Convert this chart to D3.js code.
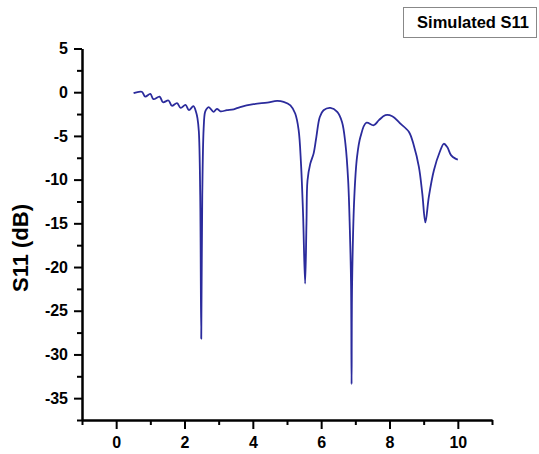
<!DOCTYPE html>
<html>
<head>
<meta charset="utf-8">
<script src="https://cdn.jsdelivr.net/npm/d3@7"></script>
<style>
  body { margin: 0; background: #fff; }
  text { font-family: "Liberation Sans", Arial, sans-serif; font-weight: bold; }
</style>
</head>
<body>
<svg id="chart" width="539" height="454"></svg>
<script>
// frequency (GHz) and S11 (dB)
const freq = [0.51, 0.75, 0.85, 1.0, 1.09, 1.27, 1.37, 1.53, 1.63, 1.78, 1.89, 2.03, 2.13, 2.26, 2.34,
  2.38, 2.42, 2.46, 2.49, 2.52, 2.56, 2.6, 2.65, 2.71, 2.85, 2.95, 3.05, 3.24, 3.44, 3.63, 4.02,
  4.42, 4.71, 4.9, 5.1, 5.24, 5.34, 5.41, 5.47, 5.53, 5.57, 5.6, 5.68, 5.78, 5.86, 5.96, 6.07,
  6.27, 6.47, 6.61, 6.71, 6.79, 6.84, 6.875, 6.89, 6.905, 6.97, 7.05, 7.15, 7.32, 7.54, 7.69,
  7.88, 8.08, 8.27, 8.32, 8.57, 8.71, 8.86, 8.96, 9.05, 9.15, 9.3, 9.47, 9.59, 9.69, 9.8, 9.93, 10.0];
const s11 = [-0.1, 0.05, -0.5, -0.2, -0.8, -0.5, -1.15, -0.95, -1.55, -1.25, -1.8, -1.45, -2.05, -1.6, -2.3,
  -3.0, -4.5, -11.8, -28.2, -11.8, -4.2, -2.3, -1.9, -1.7, -2.25, -1.9, -2.18, -2.06, -1.95, -1.7, -1.37,
  -1.18, -1.0, -1.1, -1.5, -2.44, -4.3, -8.2, -13.9, -21.9, -15, -10.1, -8.2, -7.0, -5.1, -2.83, -2.06,
  -1.8, -2.25, -3.4, -5.9, -10.1, -15.8, -22, -33.4, -22, -12, -7.4, -5.1, -3.5, -3.78, -3.2,
  -2.63, -2.75, -3.4, -3.6, -4.54, -6.07, -8.55, -11.6, -14.9, -12, -8.93, -6.84, -5.9, -6.27, -7.2, -7.6, -7.7];
const xTicks = [0, 2, 4, 6, 8, 10];
const yTicks = [5, 0, -5, -10, -15, -20, -25, -30, -35];
const seriesName = "Simulated S11";
const yTitle = "S11 (dB)";

const data = freq.map((f, i) => ({ f: f, v: s11[i] }));

const svg = d3.select("#chart");
const mLeft = 82, mRight = 492, mTop = 48.5, mBottom = 420;

const x = d3.scaleLinear().domain([-1, 11]).range([mLeft, mRight]);
const y = d3.scaleLinear().domain([-37.5, 5]).range([mBottom, mTop]);

// minor ticks
const xMinor = d3.range(-1, 11.01, 1).filter((d) => xTicks.indexOf(d) < 0);
const yMinor = d3.range(-37.5, 5.01, 2.5).filter((d) => yTicks.indexOf(d) < 0);
const plain = (d) => String(d); // hyphen minus, like the original

const gx = svg.append("g").attr("transform", "translate(0," + mBottom + ")");
gx.call(d3.axisBottom(x).tickValues(xMinor).tickSize(5).tickFormat("").tickSizeOuter(0));
gx.append("g").call(d3.axisBottom(x).tickValues(xTicks).tickFormat(plain).tickSize(9).tickPadding(8).tickSizeOuter(0));

const gy = svg.append("g").attr("transform", "translate(" + mLeft + ",0)");
gy.call(d3.axisLeft(y).tickValues(yMinor).tickSize(5).tickFormat("").tickSizeOuter(0));
gy.append("g").call(d3.axisLeft(y).tickValues(yTicks).tickFormat(plain).tickSize(8).tickPadding(6).tickSizeOuter(0));

svg.selectAll(".domain").attr("stroke", "#000").attr("stroke-width", 2);
svg.selectAll(".tick line").attr("stroke", "#000").attr("stroke-width", 2);
svg.selectAll(".tick text")
  .attr("fill", "#000")
  .style("font-size", "16px")
  .style("font-family", "'Liberation Sans', Arial, sans-serif")
  .style("font-weight", "bold");

// y title
svg.append("text")
  .attr("transform", "translate(28,248) rotate(-90)")
  .attr("text-anchor", "middle")
  .style("font-size", "22px")
  .text(yTitle);

// curve
const line = d3.line()
  .x((d) => x(d.f))
  .y((d) => y(d.v))
  .curve(d3.curveCatmullRom.alpha(0.5));

svg.append("path")
  .datum(data)
  .attr("fill", "none")
  .attr("stroke", "#2b2b9c")
  .attr("stroke-width", 1.8)
  .attr("stroke-linejoin", "round")
  .attr("d", line);

// legend box
svg.append("rect")
  .attr("x", 403.5).attr("y", 7.5)
  .attr("width", 133).attr("height", 30)
  .attr("fill", "#fff")
  .attr("stroke", "#888")
  .attr("stroke-width", 1);
svg.append("text")
  .attr("x", 473).attr("y", 28)
  .attr("text-anchor", "middle")
  .style("font-size", "16.5px")
  .text(seriesName);
</script>
</body>
</html>
